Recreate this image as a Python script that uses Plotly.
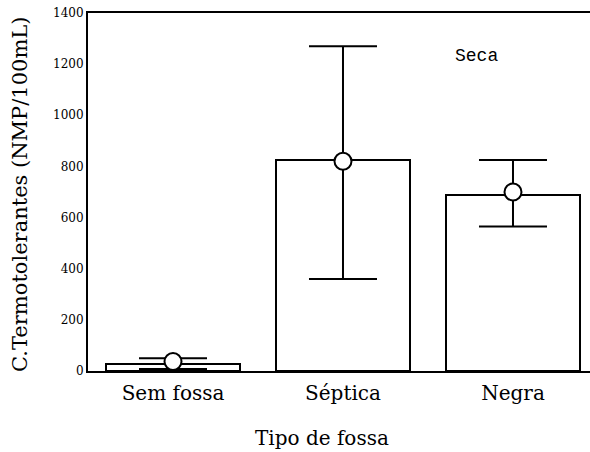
import plotly.graph_objects as go

categories = ["Sem fossa", "Séptica", "Negra"]
bar_heights = [27, 825, 690]
means = [37, 820, 700]
err_plus = [13, 450, 125]
err_minus = [29, 460, 135]
y_ticks = [0, 200, 400, 600, 800, 1000, 1200, 1400]

x_idx = list(range(len(categories)))
SERIF = "DejaVu Serif"
L, T, PW, PH = 88, 13, 502, 358


def px(xp, yp):
    return (xp - L) / PW, (T + PH - yp) / PH


fig = go.Figure()
fig.add_trace(go.Bar(
    x=x_idx, y=bar_heights, width=0.79,
    marker=dict(color="white", line=dict(color="black", width=2)),
    showlegend=False,
))
fig.add_trace(go.Scatter(
    x=x_idx, y=means, mode="markers",
    marker=dict(size=17, color="white", line=dict(color="black", width=2)),
    error_y=dict(type="data", symmetric=False, array=err_plus, arrayminus=err_minus,
                 color="black", thickness=2, width=34),
    showlegend=False,
))

fig.update_layout(
    width=590, height=452,
    margin=dict(l=L, r=590 - L - PW, t=T, b=452 - T - PH),
    paper_bgcolor="white", plot_bgcolor="white",
    font=dict(family=SERIF, color="black"),
    bargap=0,
)

sx, sy = px(476, 56)
fig.add_annotation(x=sx, y=sy, xref="paper", yref="paper", xanchor="center", yanchor="middle",
                   text="Seca", showarrow=False,
                   font=dict(family="Liberation Mono", size=18, color="black"))
tx, ty = px(322, 438)
fig.add_annotation(x=tx, y=ty, xref="paper", yref="paper", xanchor="center", yanchor="middle",
                   text="Tipo de fossa", showarrow=False,
                   font=dict(family=SERIF, size=20, color="black"))
yx, yy = px(20, 195)
fig.add_annotation(x=yx, y=yy, xref="paper", yref="paper", xanchor="center", yanchor="middle",
                   text="C.Termotolerantes (NMP/100mL)", showarrow=False, textangle=-90,
                   font=dict(family=SERIF, size=21, color="black"))

fig.update_xaxes(
    range=[-0.5, 2.453], tickmode="array", tickvals=x_idx, ticktext=categories,
    showline=True, linecolor="black", linewidth=2, mirror=True, ticks="",
    showgrid=False, zeroline=False, automargin=False, ticklabelstandoff=3,
    tickfont=dict(family=SERIF, size=20, color="black"),
)
fig.update_yaxes(
    range=[0, 1400], tickmode="array", tickvals=y_ticks,
    showline=True, linecolor="black", linewidth=2, ticks="",
    showgrid=False, zeroline=False, automargin=False,
    tickfont=dict(family=SERIF, size=12, color="black"),
)

fig.write_html("out.html", config={"displayModeBar": False},
               post_script="document.body.style.margin='0';document.body.style.overflow='hidden';")
